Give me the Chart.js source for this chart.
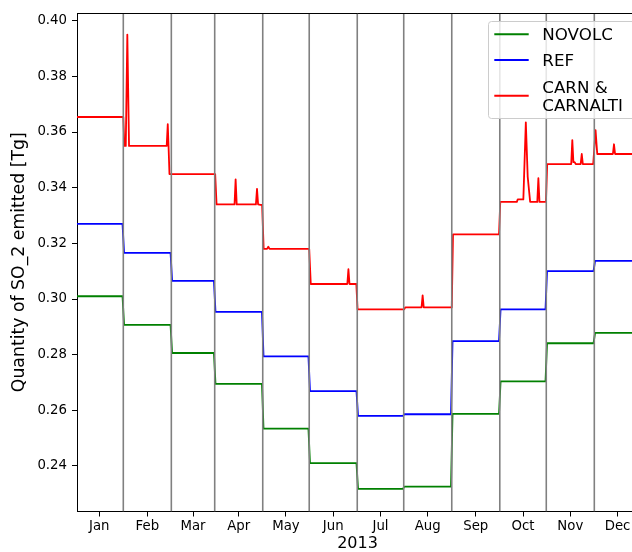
<!DOCTYPE html>
<html><head><meta charset="utf-8">
<script src="https://cdn.jsdelivr.net/npm/chart.js@4/dist/chart.umd.min.js"></script>
<style>
html,body{margin:0;padding:0;overflow:hidden;background:#fff;width:632px;height:552px}
#wrap{position:absolute;left:0;top:0;width:638px;height:552px}
</style>
</head><body><div id="wrap"><canvas id="c" width="638" height="552"></canvas></div>
<script>
// ---- data (x in days relative to the first vertical separator) ----
const monthLabels = ['Jan','Feb','Mar','Apr','May','Jun','Jul','Aug','Sep','Oct','Nov','Dec'];
const monthBounds = [-31, 0, 31, 59, 90, 120, 151, 181, 212, 243, 273, 304, 334];
const yTicks = [0.24, 0.26, 0.28, 0.30, 0.32, 0.34, 0.36, 0.38, 0.40];
const seriesNames = ['NOVOLC', 'REF', 'CARN &\nCARNALTI'];
const novolcLevels = [0.3010, 0.2907, 0.2806, 0.2695, 0.2534, 0.2410, 0.2318, 0.2326, 0.2587, 0.2704, 0.2841, 0.2878];
const refLevels    = [0.3270, 0.3166, 0.3065, 0.2954, 0.2794, 0.2669, 0.2580, 0.2586, 0.2849, 0.2963, 0.3100, 0.3137];
const carnPoints = [
  [-31,0.3654],[0,0.3654],[0.7,0.3550],[1.6,0.3550],[2.6,0.3950],[3.7,0.3550],
  [28,0.3550],[28.7,0.3628],[29.2,0.3550],[29.8,0.3449],
  [59.3,0.3449],[60.2,0.3340],
  [71.8,0.3340],[72.5,0.3430],[73.2,0.3340],
  [85.6,0.3340],[86.3,0.3396],[87,0.3340],
  [88.5,0.3338],[89.6,0.3338],[90.6,0.3180],
  [92.8,0.3180],[93.6,0.3188],[94.4,0.3180],
  [120,0.3180],[121,0.3054],
  [144.6,0.3054],[145.3,0.3107],[146,0.3054],
  [150.4,0.3054],[151.2,0.2963],
  [181.3,0.2963],[182,0.2970],
  [192.5,0.2970],[193.2,0.3013],[193.9,0.2970],
  [212,0.2970],[212.8,0.3232],
  [242.5,0.3232],[243.3,0.3349],
  [254,0.3349],[254.6,0.3358],
  [258.2,0.3358],[259.8,0.3635],[261,0.3440],[262.6,0.3349],
  [267.2,0.3349],[267.9,0.3434],[268.6,0.3349],
  [272.8,0.3349],[273.6,0.3485],
  [289.1,0.3485],[289.8,0.3571],[290.5,0.3492],[291.3,0.3492],[292,0.3485],
  [295.2,0.3485],[295.9,0.3521],[296.6,0.3485],
  [303.3,0.3485],[304.8,0.3607],[305.9,0.3521],
  [316,0.3521],[316.7,0.3556],[317.4,0.3521],
  [334,0.3521]
];
const xMin = -29.88, xMax = 332.2;
const yMin = 0.22365, yMax = 0.40277;

// ---- build step series from monthly levels ----
function stepSeries(levels){
  const pts = [];
  levels.forEach((v, m) => {
    const a = m === 0 ? monthBounds[0] : monthBounds[m] + 0.5;
    const b = m === levels.length - 1 ? monthBounds[m+1] : monthBounds[m+1] - 0.5;
    pts.push({x:a, y:v}, {x:b, y:v});
  });
  return pts;
}
const tickPos = monthLabels.map((_, i) => (monthBounds[i] + monthBounds[i+1]) / 2);
const FONT = "'DejaVu Sans', 'Liberation Sans', sans-serif";

const frameAndLegend = {
  id: 'frameAndLegend',
  afterDatasetsDraw(chart){
    const {ctx, chartArea:ca, scales:{x}} = chart;
    ctx.save();
    ctx.beginPath(); ctx.rect(ca.left, ca.top, ca.right-ca.left, ca.bottom-ca.top); ctx.clip();
    ctx.strokeStyle = '#808080'; ctx.lineWidth = 1.6;
    monthBounds.slice(1, -1).forEach(d => {
      const px = x.getPixelForValue(d);
      ctx.beginPath(); ctx.moveTo(px, ca.top); ctx.lineTo(px, ca.bottom); ctx.stroke();
    });
    ctx.restore();
    // top spine
    ctx.save();
    ctx.strokeStyle = '#000'; ctx.lineWidth = 1;
    ctx.beginPath(); ctx.moveTo(ca.left, Math.round(ca.top)+0.5); ctx.lineTo(ca.right, Math.round(ca.top)+0.5); ctx.stroke();
    ctx.restore();
    // legend
    ctx.save();
    const bx = 488.5, by = 21.5, bw = 150, bh = 97, r = 3;
    ctx.beginPath();
    ctx.moveTo(bx+r, by); ctx.lineTo(bx+bw-r, by); ctx.arcTo(bx+bw, by, bx+bw, by+r, r);
    ctx.lineTo(bx+bw, by+bh-r); ctx.arcTo(bx+bw, by+bh, bx+bw-r, by+bh, r);
    ctx.lineTo(bx+r, by+bh); ctx.arcTo(bx, by+bh, bx, by+bh-r, r);
    ctx.lineTo(bx, by+r); ctx.arcTo(bx, by, bx+r, by, r); ctx.closePath();
    ctx.fillStyle = 'rgba(255,255,255,0.8)'; ctx.fill();
    ctx.strokeStyle = '#cccccc'; ctx.lineWidth = 1; ctx.stroke();
    const rows = [34.3, 60, 95.7];
    ctx.font = '16.7px ' + FONT; ctx.fillStyle = '#000'; ctx.textBaseline = 'alphabetic'; ctx.textAlign = 'left';
    chart.data.datasets.forEach((ds, i) => {
      ctx.strokeStyle = ds.borderColor; ctx.lineWidth = 2;
      ctx.beginPath(); ctx.moveTo(494.3, rows[i]); ctx.lineTo(528.7, rows[i]); ctx.stroke();
      const lines = ds.label.split('\n');
      const lh = 18.3;
      const startY = rows[i] - (lines.length-1)*lh/2 + 6;
      lines.forEach((t, k) => ctx.fillText(t, 542.3, startY + k*lh));
    });
    ctx.restore();
  }
};

const commonLine = {pointRadius:0, borderWidth:1.8, tension:0, fill:false, borderJoinStyle:'round', parsing:false};
new Chart(document.getElementById('c'), {
  type: 'line',
  data: {
    datasets: [
      Object.assign({label: seriesNames[0], data: stepSeries(novolcLevels), borderColor: '#008000'}, commonLine),
      Object.assign({label: seriesNames[1], data: stepSeries(refLevels), borderColor: '#0000ff'}, commonLine),
      Object.assign({label: seriesNames[2], data: carnPoints.map(p => ({x:p[0], y:p[1]})), borderColor: '#ff0000'}, commonLine)
    ]
  },
  options: {
    responsive: false, animation: false, devicePixelRatio: 1,
    layout: {padding: {top: 13, left: 0, right: 0, bottom: 0}},
    plugins: {legend: {display: false}, tooltip: {enabled: false}},
    scales: {
      x: {
        type: 'linear', min: xMin, max: xMax,
        afterBuildTicks: s => { s.ticks = tickPos.map(v => ({value: v})); },
        afterFit: s => { s.height = 40.5; s.paddingLeft = 0; s.paddingRight = 0; },
        ticks: {autoSkip: false, maxRotation: 0, minRotation: 0, color: '#000', padding: 2,
                font: {family: FONT, size: 13.3}, callback: (v, i) => monthLabels[i]},
        grid: {drawOnChartArea: false, drawTicks: true, tickLength: 5, color: '#000', tickWidth: 1},
        border: {display: true, color: '#000', width: 1},
        title: {display: true, text: '2013', color: '#000', font: {family: FONT, size: 16, lineHeight: 1}, padding: {top: 0, bottom: 0}}
      },
      y: {
        type: 'linear', min: yMin, max: yMax,
        afterBuildTicks: s => { s.ticks = yTicks.map(v => ({value: v})); },
        afterFit: s => { s.width = 77; s.paddingTop = 0; s.paddingBottom = 0; },
        ticks: {color: '#000', padding: 5, font: {family: FONT, size: 13.3}, callback: v => v.toFixed(2)},
        grid: {drawOnChartArea: false, drawTicks: true, tickLength: 5, color: '#000', tickWidth: 1},
        border: {display: true, color: '#000', width: 1},
        title: {display: true, text: 'Quantity of SO_2 emitted [Tg]', color: '#000', font: {family: FONT, size: 17.3, lineHeight: 1}, padding: {top: 11, bottom: 0}}
      }
    }
  },
  plugins: [frameAndLegend]
});
</script>
</body></html>
